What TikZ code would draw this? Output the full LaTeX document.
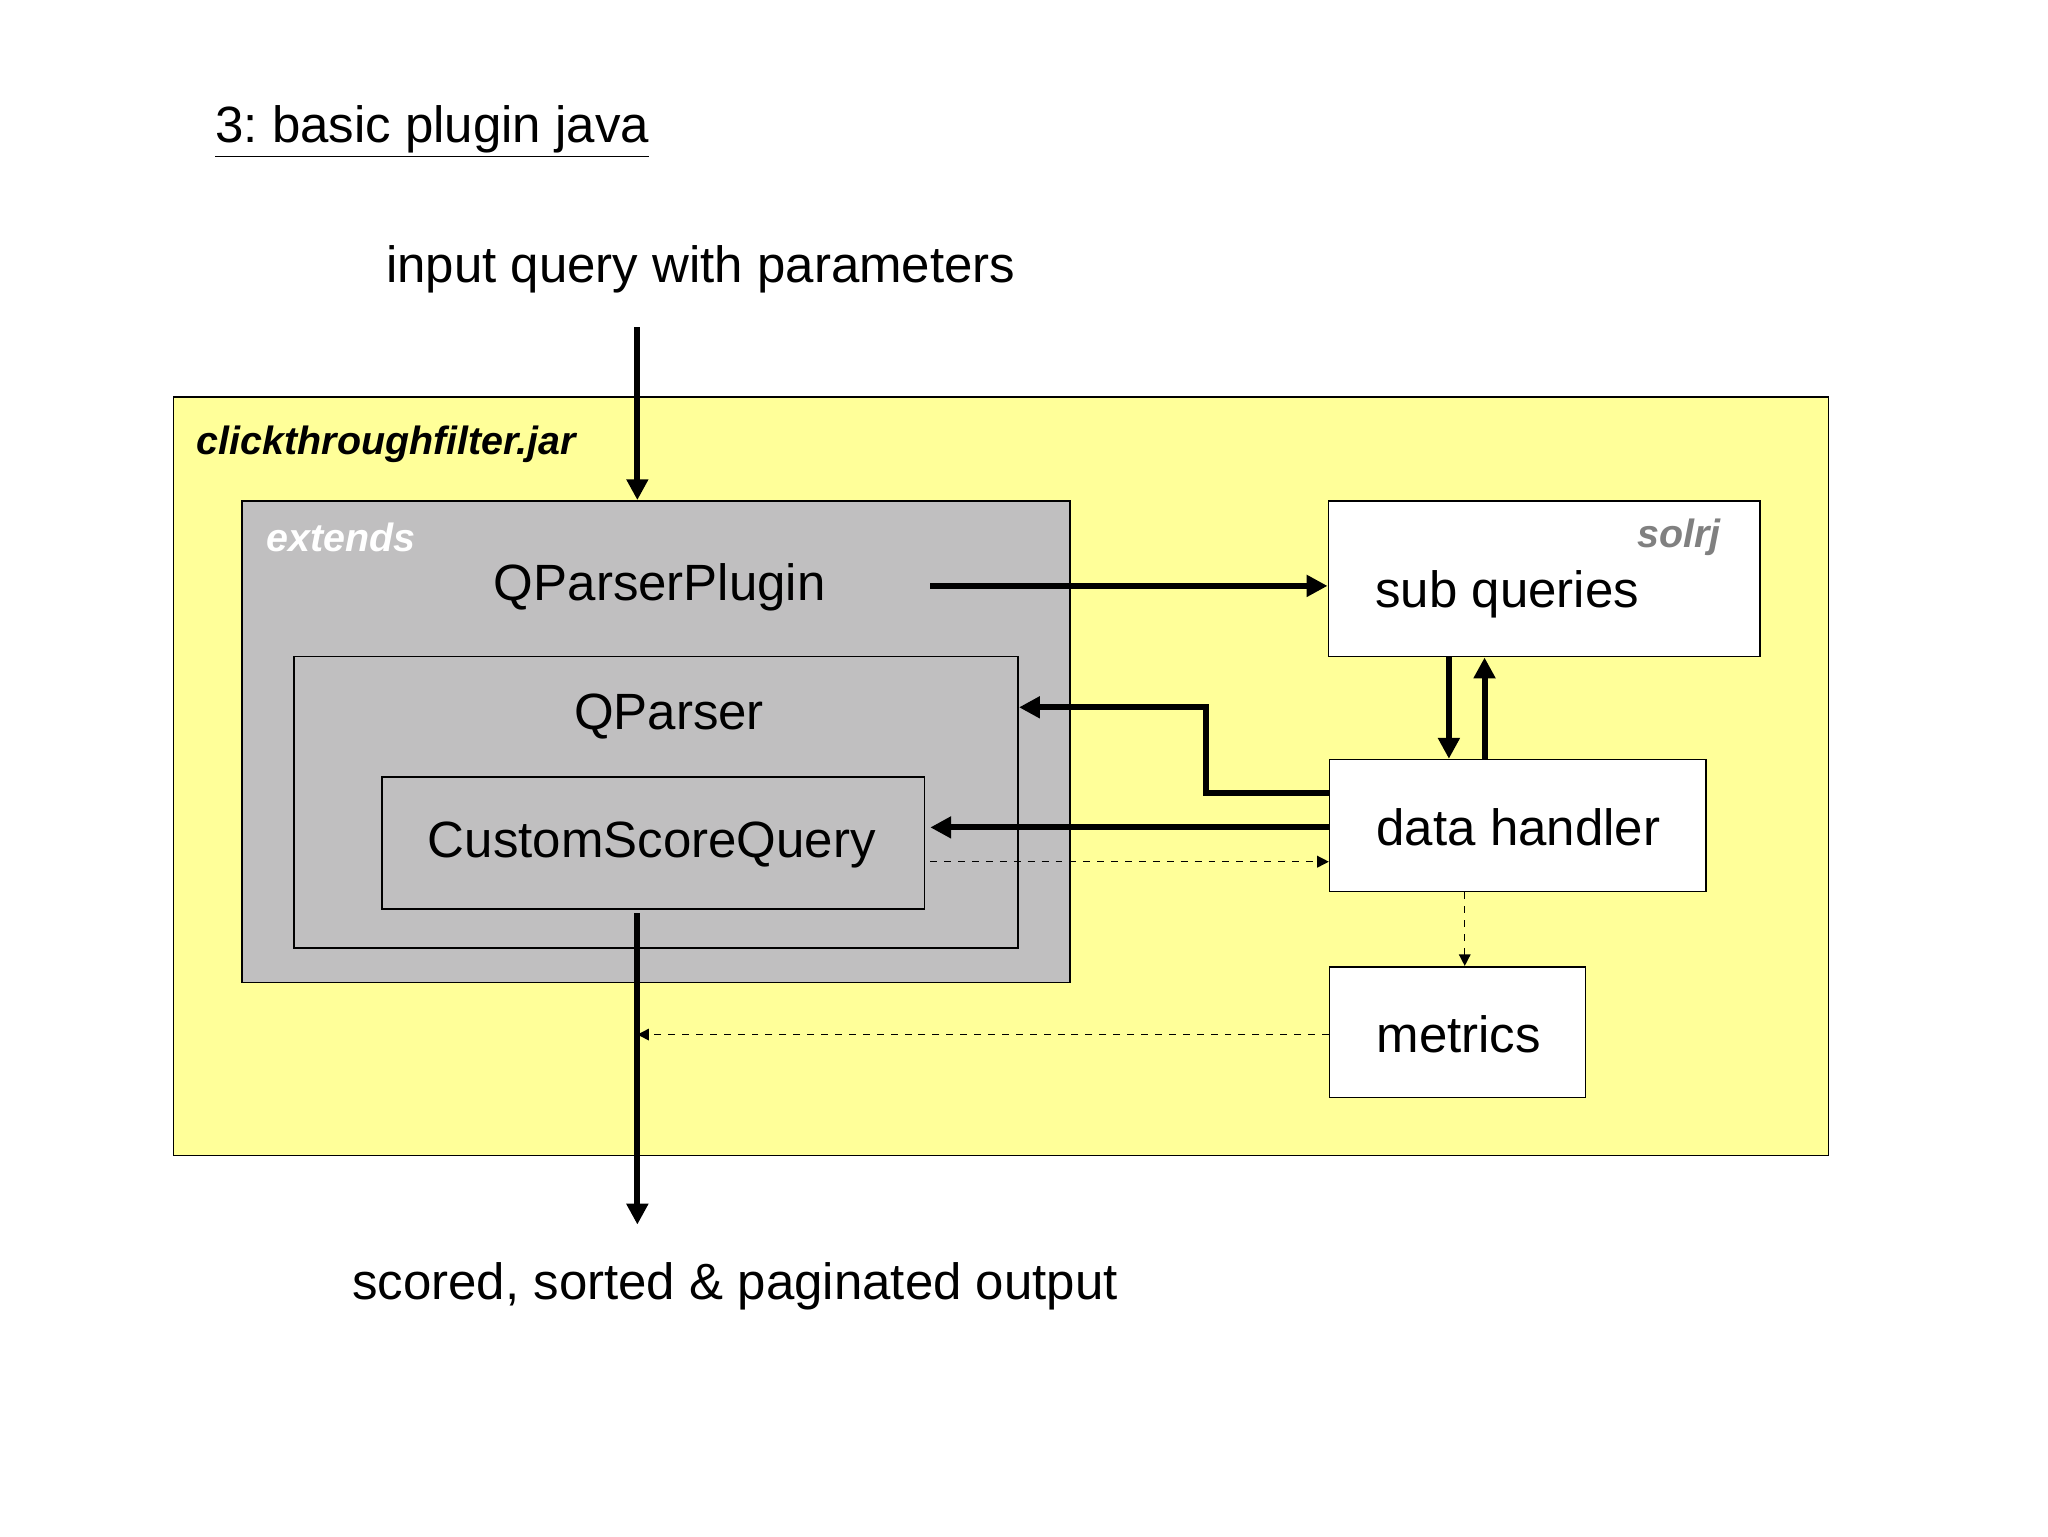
\documentclass[tikz,border=0pt]{standalone}
\usepackage{fontspec}
\setmainfont{Liberation Sans}
\usetikzlibrary{arrows.meta}
\begin{document}
\begin{tikzpicture}[x=0.02cm,y=-0.02cm,
  box/.style={draw=black,line width=0.7pt,inner sep=0pt,anchor=north west},
  big/.style={font=\fontsize{22}{26}\selectfont},
  small/.style={font=\fontsize{17}{20}\selectfont\bfseries\itshape},
  thick arrow/.style={line width=2.6pt,-{Triangle[length=9pt,width=9pt]}},
  thin arrow/.style={line width=0.6pt,dashed,dash pattern=on 3pt off 3pt,-{Triangle[length=5pt,width=5pt]}}]
\useasboundingbox (0,0) rectangle (1552,1164);
\node[anchor=west,font=\fontsize{22}{26}\selectfont] (title) at (157,100) {\underline{3:~basic plugin java}};
\node[big] (input) at (531,204) {input query with parameters};
\node[big] (output) at (557,975) {scored, sorted \& paginated output};
% containers
\node[box,fill={rgb,255:red,255;green,255;blue,153},minimum width=1254*0.02cm,minimum height=575*0.02cm] (jar) at (131,300) {};
\node[anchor=west,small] (jarlbl) at (143,337) {clickthroughfilter.jar};
\node[box,fill={rgb,255:red,192;green,191;blue,192},minimum width=627*0.02cm,minimum height=365*0.02cm] (plugin) at (183,379) {};
\node[anchor=west,text=white,small] (ext) at (196,407) {extends};
\node[big] (pluginlbl) at (500,445) {QParserPlugin};
\node[box,fill={rgb,255:red,192;green,191;blue,192},minimum width=549*0.02cm,minimum height=221*0.02cm] (qparser) at (222,497) {};
\node[big] (qparserlbl) at (507,543) {QParser};
\node[box,fill={rgb,255:red,192;green,191;blue,192},minimum width=411*0.02cm,minimum height=100*0.02cm] (csq) at (289,588) {};
\node[big] (csqlbl) at (494,640) {CustomScoreQuery};
\node[box,fill=white,minimum width=327*0.02cm,minimum height=118*0.02cm] (sub) at (1006,379) {};
\node[anchor=east,text={rgb,255:red,128;green,128;blue,128},small] (solrj) at (1310,407) {solrj};
\node[big,anchor=west] (sublbl) at (1036,450) {sub queries};
\node[box,fill=white,minimum width=285*0.02cm,minimum height=100*0.02cm] (dh) at (1007,575) {};
\node[big,anchor=west] (dhlbl) at (1037,627) {data handler};
\node[box,fill=white,minimum width=194*0.02cm,minimum height=99*0.02cm] (met) at (1007,732) {};
\node[big,anchor=west] (metlbl) at (1037,784) {metrics};
% coordinates
\coordinate (inTop) at (483,248);
\coordinate (inBot) at (483,379);
\coordinate (plOut) at (705,444);
\coordinate (subIn) at (1006,444);
\coordinate (outTop) at (483,692);
\coordinate (outBot) at (483,928);
\coordinate (metIn) at (483,784);
% arrows
\draw[thick arrow] (inTop) -- (inBot);
\draw[thick arrow] (plOut) -- (subIn);
\draw[thick arrow] (sub.south west -| 1098,0) -- (dh.north west -| 1098,0);
\draw[thick arrow] (dh.north west -| 1125,0) -- (sub.south west -| 1125,0);
\draw[thick arrow] (dh.west |- 0,601) -- (914,601) -- (914,536) -- (qparser.east |- 0,536);
\draw[thick arrow] (dh.west |- 0,627) -- (705,627);
\draw[thin arrow] (705,653) -- (dh.west |- 0,653);
\draw[thin arrow] (dh.south -| 1110,0) -- (met.north -| 1110,0);
\draw[thin arrow] (met.west |- metIn) -- (metIn);
\draw[thick arrow] (outTop) -- (outBot);
\end{tikzpicture}
\end{document}
